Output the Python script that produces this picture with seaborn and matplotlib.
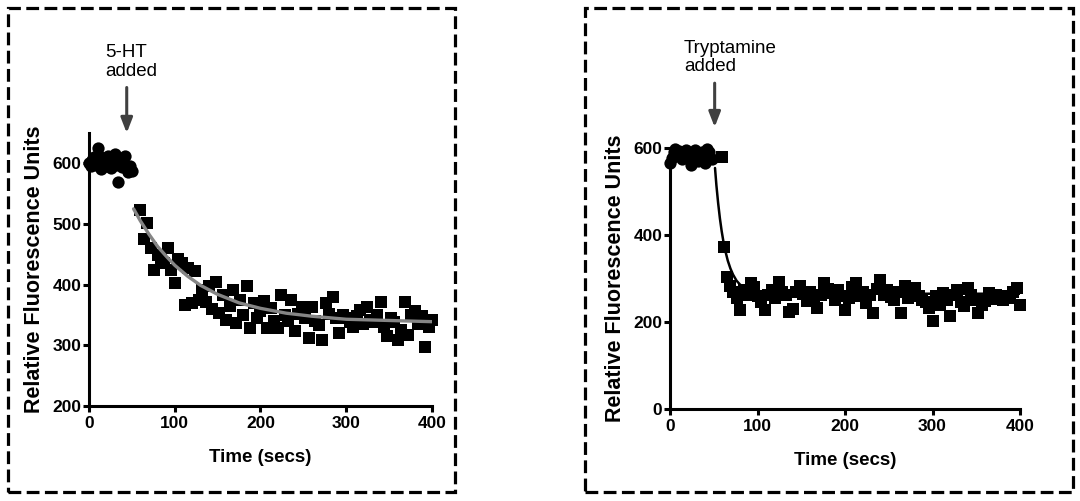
import matplotlib
matplotlib.use('Agg')
import matplotlib.pyplot as plt
from matplotlib.patches import Rectangle
import numpy as np
import pandas as pd
import seaborn as sns

# ---- 5-HT panel ----
ht_base_t = [0, 2, 4, 6, 8, 10, 12, 14, 16, 18, 20, 22, 24, 26, 28, 30, 32, 34, 36, 38,
             40, 42, 44, 46, 48, 50]
ht_base_y = [600, 595, 605, 610, 598, 625, 612, 590, 603, 608, 596, 612, 600, 592, 605,
             615, 598, 570, 602, 594, 608, 612, 590, 585, 595, 588]

ht_t = [60, 64, 68, 72, 76, 80, 84, 88, 92, 96, 100, 104, 108, 112, 116, 120, 124, 128,
        132, 136, 140, 144, 148, 152, 156, 160, 164, 168, 172, 176, 180, 184, 188, 192,
        196, 200, 204, 208, 212, 216, 220, 224, 228, 232, 236, 240, 244, 248, 252, 256,
        260, 264, 268, 272, 276, 280, 284, 288, 292, 296, 300, 304, 308, 312, 316, 320,
        324, 328, 332, 336, 340, 344, 348, 352, 356, 360, 364, 368, 372, 376, 380, 384,
        388, 392, 396, 400]
ht_y = [523, 476, 501, 460, 425, 449, 441, 435, 460, 424, 402, 443, 435, 367, 427, 369,
        422, 375, 391, 372, 398, 360, 405, 353, 383, 342, 365, 391, 337, 375, 350, 397,
        328, 369, 345, 356, 373, 328, 361, 340, 328, 383, 350, 340, 375, 323, 352, 364,
        345, 312, 364, 340, 334, 309, 369, 352, 380, 345, 320, 350, 345, 338, 331, 348,
        359, 335, 364, 342, 338, 350, 372, 330, 315, 345, 338, 309, 325, 372, 317, 350,
        356, 336, 348, 298, 331, 342]

ht_fit_t = [52, 60, 70, 80, 90, 100, 115, 130, 150, 175, 200, 230, 260, 300, 350, 400]
ht_fit_y = [525, 505, 483, 463, 447, 432, 414, 399, 384, 370, 361, 353, 348, 343, 341, 339]

# ---- Tryptamine panel ----
tr_base_t = [0, 2, 4, 6, 8, 10, 12, 14, 16, 18, 20, 22, 24, 26, 28, 30, 32, 34, 36, 38,
             40, 42, 44, 46, 48]
tr_base_y = [566, 578, 590, 598, 585, 592, 580, 575, 590, 596, 578, 588, 562, 585, 595,
             580, 570, 588, 590, 583, 565, 598, 590, 578, 575]

tr_t = [59, 62, 65, 68, 72, 76, 80, 84, 88, 92, 96, 100, 104, 108, 112, 116, 120, 124,
        128, 132, 136, 140, 144, 148, 152, 156, 160, 164, 168, 172, 176, 180, 184, 188,
        192, 196, 200, 204, 208, 212, 216, 220, 224, 228, 232, 236, 240, 244, 248, 252,
        256, 260, 264, 268, 272, 276, 280, 284, 288, 292, 296, 300, 304, 308, 312, 316,
        320, 324, 328, 332, 336, 340, 344, 348, 352, 356, 360, 364, 368, 372, 376, 380,
        384, 388, 392, 396, 400]
tr_y = [580, 373, 304, 282, 268, 255, 228, 274, 262, 290, 280, 259, 245, 228, 262, 274,
        255, 293, 268, 262, 224, 230, 270, 282, 265, 248, 270, 255, 232, 262, 290, 275,
        267, 250, 274, 260, 228, 255, 280, 290, 259, 270, 244, 262, 221, 275, 297, 262,
        274, 258, 251, 270, 221, 282, 255, 274, 278, 260, 251, 245, 232, 202, 259, 240,
        267, 250, 213, 262, 274, 245, 236, 278, 262, 250, 221, 240, 248, 267, 252, 262,
        255, 250, 260, 255, 270, 278, 240]

tr_fit_t = [51.4, 53, 55, 57, 59, 61, 63, 66, 69, 72, 76, 80, 90, 100, 150, 400]
tr_fit_y = [554, 514, 473, 438, 409, 385, 365, 341, 323, 309, 295, 286, 273, 268, 265, 265]

sns.set_style('ticks')
plt.rcParams['font.family'] = ['Liberation Sans', 'DejaVu Sans']
plt.rcParams.update({'text.color': 'black', 'axes.labelcolor': 'black',
                     'xtick.color': 'black', 'ytick.color': 'black',
                     'axes.edgecolor': 'black'})

fig = plt.figure(figsize=(10.8, 5.01), dpi=100)

# dashed frames around each panel
for x0, w in [(0.0074, 0.414), (0.5417, 0.4519)]:
    fig.add_artist(Rectangle((x0, 0.018), w, 0.966, transform=fig.transFigure,
                             fill=False, edgecolor='black', linewidth=2.3,
                             linestyle=(0, (4, 1.7))))

ax1 = fig.add_axes([0.0824, 0.1896, 0.3176, 0.5449])
ax2 = fig.add_axes([0.6204, 0.1836, 0.3241, 0.5210])


def draw_panel(ax, base_t, base_y, t, y, fit_t, fit_y, fit_color, fit_lw, sq_size):
    base = pd.DataFrame({'t': base_t, 'y': base_y})
    drop = pd.DataFrame({'t': t, 'y': y})
    fit = pd.DataFrame({'t': fit_t, 'y': fit_y})
    sns.scatterplot(data=base, x='t', y='y', ax=ax, marker='o', s=78, color='black',
                    linewidth=0, clip_on=False, zorder=3)
    sns.scatterplot(data=drop, x='t', y='y', ax=ax, marker='s', s=sq_size, color='black',
                    linewidth=0, clip_on=False, zorder=3)
    sns.lineplot(data=fit, x='t', y='y', ax=ax, color=fit_color, linewidth=fit_lw,
                 sort=False, estimator=None, zorder=4)


draw_panel(ax1, ht_base_t, ht_base_y, ht_t, ht_y, ht_fit_t, ht_fit_y, '#858585', 2.4, 72)
draw_panel(ax2, tr_base_t, tr_base_y, tr_t, tr_y, tr_fit_t, tr_fit_y, 'black', 1.8, 82)

ax1.set_xlim(0, 400)
ax1.set_ylim(200, 650)
ax1.set_yticks([200, 300, 400, 500, 600])
ax2.set_xlim(0, 400)
ax2.set_ylim(0, 600)
ax2.set_yticks([0, 200, 400, 600])

for ax in (ax1, ax2):
    ax.set_xticks([0, 100, 200, 300, 400])
    sns.despine(ax=ax)
    for side in ('left', 'bottom'):
        ax.spines[side].set_linewidth(2.2)
        ax.spines[side].set_color('black')
    ax.tick_params(axis='both', length=4.5, width=2.2, direction='out', labelsize=12.5,
                   colors='black')
    ax.tick_params(axis='y', pad=1)
    ax.tick_params(axis='x', pad=3)
    for lab in ax.get_xticklabels() + ax.get_yticklabels():
        lab.set_fontweight('bold')
    ax.set_xlabel('Time (secs)', fontsize=13.5, fontweight='bold', labelpad=13)
    ax.set_ylabel('Relative Fluorescence Units', fontsize=15.5, fontweight='bold',
                  labelpad=5)
    ax.set_facecolor('none')

# addition arrows and notes
arrow_style = dict(arrowstyle='-|>,head_length=0.9,head_width=0.35', color='#404040',
                   linewidth=2.2, shrinkA=0, shrinkB=0)
note_font = ['Liberation Sans Narrow', 'Liberation Sans']
ax1.annotate('', xy=(44, 650), xytext=(44, 725), arrowprops=arrow_style,
             annotation_clip=False)
ax1.text(19, 738, '5-HT\nadded', ha='left', va='bottom', fontsize=13.5,
         linespacing=1.1, family=note_font, clip_on=False)

ax2.annotate('', xy=(51, 648), xytext=(51, 749), arrowprops=arrow_style,
             annotation_clip=False)
ax2.text(16, 767, 'Tryptamine\nadded', ha='left', va='bottom', fontsize=13.5,
         linespacing=1.1, family=note_font, clip_on=False)

fig.savefig('out.png', dpi=100)
